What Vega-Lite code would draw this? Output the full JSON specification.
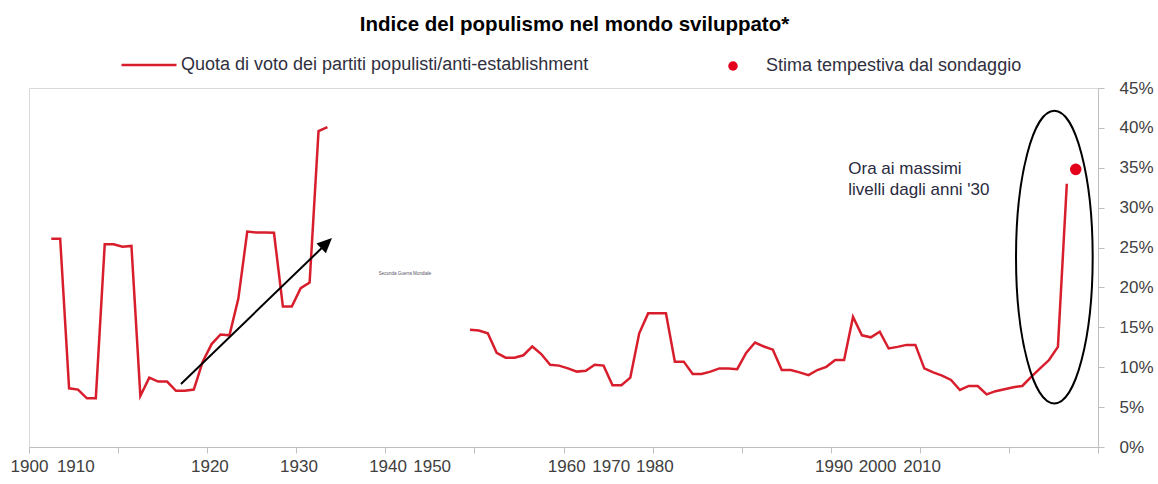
{
  "$schema": "https://vega.github.io/schema/vega-lite/v6.json",
  "autosize": {"type": "none"},
  "padding": {"left": 29, "top": 88, "right": 60, "bottom": 37},
  "width": 1069,
  "height": 359,
  "background": "white",
  "title": {
    "text": "Indice del populismo nel mondo sviluppato*",
    "font": "Liberation Sans",
    "fontSize": 20.5,
    "fontWeight": "bold",
    "color": "#000000",
    "anchor": "middle",
    "frame": "group",
    "dx": 11,
    "offset": 1
  },
  "config": {
    "font": "Liberation Sans",
    "view": {"stroke": "#d9d9d9", "strokeWidth": 1},
    "axis": {"grid": false, "title": null}
  },
  "datasets": {
    "linea": [
      {"i": 2, "v": 26.1, "seg": "a"}, {"i": 3, "v": 26.1, "seg": "a"}, {"i": 4, "v": 7.35, "seg": "a"}, {"i": 5, "v": 7.2, "seg": "a"},
      {"i": 6, "v": 6.1, "seg": "a"}, {"i": 7, "v": 6.1, "seg": "a"}, {"i": 8, "v": 25.4, "seg": "a"}, {"i": 9, "v": 25.4, "seg": "a"},
      {"i": 10, "v": 25.1, "seg": "a"}, {"i": 11, "v": 25.2, "seg": "a"}, {"i": 12, "v": 6.4, "seg": "a"}, {"i": 13, "v": 8.7, "seg": "a"},
      {"i": 14, "v": 8.2, "seg": "a"}, {"i": 15, "v": 8.2, "seg": "a"}, {"i": 16, "v": 7.05, "seg": "a"}, {"i": 17, "v": 7.05, "seg": "a"},
      {"i": 18, "v": 7.2, "seg": "a"}, {"i": 19, "v": 10.7, "seg": "a"}, {"i": 20, "v": 12.9, "seg": "a"}, {"i": 21, "v": 14.1, "seg": "a"},
      {"i": 22, "v": 14.0, "seg": "a"}, {"i": 23, "v": 18.6, "seg": "a"}, {"i": 24, "v": 27.0, "seg": "a"}, {"i": 25, "v": 26.9, "seg": "a"},
      {"i": 26, "v": 26.9, "seg": "a"}, {"i": 27, "v": 26.85, "seg": "a"}, {"i": 28, "v": 17.6, "seg": "a"}, {"i": 29, "v": 17.6, "seg": "a"},
      {"i": 30, "v": 19.9, "seg": "a"}, {"i": 31, "v": 20.6, "seg": "a"}, {"i": 32, "v": 39.6, "seg": "a"}, {"i": 33, "v": 40.1, "seg": "a"},
      {"i": 49, "v": 14.7, "seg": "b"}, {"i": 50, "v": 14.6, "seg": "b"}, {"i": 51, "v": 14.25, "seg": "b"}, {"i": 52, "v": 11.8, "seg": "b"},
      {"i": 53, "v": 11.2, "seg": "b"}, {"i": 54, "v": 11.2, "seg": "b"}, {"i": 55, "v": 11.5, "seg": "b"}, {"i": 56, "v": 12.6, "seg": "b"},
      {"i": 57, "v": 11.65, "seg": "b"}, {"i": 58, "v": 10.3, "seg": "b"}, {"i": 59, "v": 10.2, "seg": "b"}, {"i": 60, "v": 9.85, "seg": "b"},
      {"i": 61, "v": 9.45, "seg": "b"}, {"i": 62, "v": 9.55, "seg": "b"}, {"i": 63, "v": 10.3, "seg": "b"}, {"i": 64, "v": 10.2, "seg": "b"},
      {"i": 65, "v": 7.75, "seg": "b"}, {"i": 66, "v": 7.75, "seg": "b"}, {"i": 67, "v": 8.7, "seg": "b"}, {"i": 68, "v": 14.25, "seg": "b"},
      {"i": 69, "v": 16.75, "seg": "b"}, {"i": 70, "v": 16.75, "seg": "b"}, {"i": 71, "v": 16.75, "seg": "b"}, {"i": 72, "v": 10.7, "seg": "b"},
      {"i": 73, "v": 10.7, "seg": "b"}, {"i": 74, "v": 9.15, "seg": "b"}, {"i": 75, "v": 9.15, "seg": "b"}, {"i": 76, "v": 9.45, "seg": "b"},
      {"i": 77, "v": 9.85, "seg": "b"}, {"i": 78, "v": 9.85, "seg": "b"}, {"i": 79, "v": 9.75, "seg": "b"}, {"i": 80, "v": 11.8, "seg": "b"},
      {"i": 81, "v": 13.1, "seg": "b"}, {"i": 82, "v": 12.6, "seg": "b"}, {"i": 83, "v": 12.2, "seg": "b"}, {"i": 84, "v": 9.65, "seg": "b"},
      {"i": 85, "v": 9.65, "seg": "b"}, {"i": 86, "v": 9.35, "seg": "b"}, {"i": 87, "v": 9.0, "seg": "b"}, {"i": 88, "v": 9.65, "seg": "b"},
      {"i": 89, "v": 10.05, "seg": "b"}, {"i": 90, "v": 10.9, "seg": "b"}, {"i": 91, "v": 10.9, "seg": "b"}, {"i": 92, "v": 16.3, "seg": "b"},
      {"i": 93, "v": 14.0, "seg": "b"}, {"i": 94, "v": 13.75, "seg": "b"}, {"i": 95, "v": 14.45, "seg": "b"}, {"i": 96, "v": 12.35, "seg": "b"},
      {"i": 97, "v": 12.55, "seg": "b"}, {"i": 98, "v": 12.8, "seg": "b"}, {"i": 99, "v": 12.8, "seg": "b"}, {"i": 100, "v": 9.85, "seg": "b"},
      {"i": 101, "v": 9.35, "seg": "b"}, {"i": 102, "v": 8.95, "seg": "b"}, {"i": 103, "v": 8.4, "seg": "b"}, {"i": 104, "v": 7.15, "seg": "b"},
      {"i": 105, "v": 7.65, "seg": "b"}, {"i": 106, "v": 7.65, "seg": "b"}, {"i": 107, "v": 6.6, "seg": "b"}, {"i": 108, "v": 7.0, "seg": "b"},
      {"i": 109, "v": 7.25, "seg": "b"}, {"i": 110, "v": 7.5, "seg": "b"}, {"i": 111, "v": 7.65, "seg": "b"}, {"i": 112, "v": 8.8, "seg": "b"},
      {"i": 113, "v": 9.85, "seg": "b"}, {"i": 114, "v": 10.9, "seg": "b"}, {"i": 115, "v": 12.55, "seg": "b"}, {"i": 116, "v": 33.0, "seg": "b"}
    ],
    "stima": [{"i": 117, "v": 34.8}],
    "freccia": [{"i": 16.56, "v": 7.9, "i2": 32.39, "v2": 24.97}],
    "punta": [{"i": 33.51, "v": 26.2}],
    "ellisse": [{"i": 114.6, "v": 23.8}],
    "nota": [{"i": 91.47, "v": 34.2, "testo": ["Ora ai massimi", "livelli dagli anni '30"]}],
    "piccola": [{"i": 41.7, "v": 21.7, "testo": "Seconda Guerra Mondiale"}]
  },
  "encoding": {
    "x": {
      "field": "i", "type": "quantitative",
      "scale": {"domain": [-0.5, 119.5], "nice": false, "zero": false},
      "axis": {
        "orient": "bottom",
        "values": [-0.5, 9.5, 19.5, 29.5, 39.5, 49.5, 59.5, 69.5, 79.5, 89.5, 99.5, 109.5, 119.5, 4.7, 19.75, 29.75, 39.75, 44.7, 59.8, 64.8, 69.7, 89.8, 94.7, 99.7],
        "labelExpr": "datum.value == -0.5 ? '1900' : datum.value == 4.7 ? '1910' : datum.value == 19.75 ? '1920' : datum.value == 29.75 ? '1930' : datum.value == 39.75 ? '1940' : datum.value == 44.7 ? '1950' : datum.value == 59.8 ? '1960' : datum.value == 64.8 ? '1970' : datum.value == 69.7 ? '1980' : datum.value == 89.8 ? '1990' : datum.value == 94.7 ? '2000' : datum.value == 99.7 ? '2010' : ''",
        "tickOpacity": {"condition": {"test": "(datum.value + 0.5) % 10 == 0", "value": 1}, "value": 0},
        "labelOverlap": false,
        "labelFlush": false,
        "labelBound": false,
        "tickSize": 6,
        "tickColor": "#bfbfbf",
        "domainColor": "#bfbfbf",
        "labelFontSize": 17,
        "labelColor": "#404040",
        "labelPadding": 5,
        "grid": false,
        "title": null
      }
    },
    "y": {
      "field": "v", "type": "quantitative",
      "scale": {"domain": [0, 45], "nice": false, "zero": true},
      "axis": {
        "orient": "right",
        "values": [0, 5, 10, 15, 20, 25, 30, 35, 40, 45],
        "labelExpr": "datum.value + '%'",
        "labelOverlap": false,
        "labelFlush": false,
        "labelBound": false,
        "tickSize": 6,
        "tickColor": "#bfbfbf",
        "domainColor": "#bfbfbf",
        "labelFontSize": 17,
        "labelColor": "#404040",
        "labelPadding": 15,
        "grid": false,
        "title": null
      }
    }
  },
  "layer": [
    {
      "data": {"name": "linea"},
      "mark": {"type": "line", "strokeWidth": 2.5, "interpolate": "linear"},
      "encoding": {
        "detail": {"field": "seg"},
        "color": {
          "datum": "Quota di voto dei partiti populisti/anti-establishment",
          "scale": {"range": ["#d81e2c"]},
          "legend": {
            "orient": "none", "legendX": 91, "legendY": -52, "padding": 0,
            "title": null, "symbolType": "stroke", "symbolSize": 3025, "symbolStrokeWidth": 2.5,
            "labelFontSize": 18, "labelOffset": 3, "labelLimit": 700, "labelColor": "#303040"
          }
        }
      }
    },
    {
      "data": {"name": "stima"},
      "mark": {"type": "point", "filled": true, "size": 135, "opacity": 1},
      "encoding": {
        "fill": {
          "datum": "Stima tempestiva dal sondaggio",
          "scale": {"range": ["#e3001b"]},
          "legend": {
            "orient": "none", "legendX": 695, "legendY": -31, "padding": 0,
            "title": null, "symbolType": "circle", "symbolSize": 90, "symbolStrokeWidth": 0,
            "labelFontSize": 18, "labelOffset": 24, "labelLimit": 700, "labelColor": "#303040"
          }
        }
      }
    },
    {
      "data": {"name": "freccia"},
      "mark": {"type": "rule", "color": "#000000", "strokeWidth": 2},
      "encoding": {
        "x2": {"field": "i2"},
        "y2": {"field": "v2"}
      }
    },
    {
      "data": {"name": "punta"},
      "mark": {"type": "point", "shape": "M 0 0 L -0.45 1 L 0.45 1 Z", "filled": true, "color": "#000000", "size": 900, "angle": 46, "opacity": 1}
    },
    {
      "data": {"name": "ellisse"},
      "mark": {"type": "point", "shape": "M 0 -1 C 0.1447 -1 0.262 -0.5523 0.262 0 C 0.262 0.5523 0.1447 1 0 1 C -0.1447 1 -0.262 0.5523 -0.262 0 C -0.262 -0.5523 -0.1447 -1 0 -1 Z", "filled": false, "stroke": "#000000", "strokeWidth": 2, "size": 85615, "opacity": 1}
    },
    {
      "data": {"name": "nota"},
      "mark": {"type": "text", "align": "left", "baseline": "alphabetic", "fontSize": 17, "lineHeight": 21, "color": "#2a2a40"},
      "encoding": {
        "text": {"field": "testo"}
      }
    },
    {
      "data": {"name": "piccola"},
      "mark": {"type": "text", "align": "center", "baseline": "middle", "fontSize": 4.5, "color": "#555566"},
      "encoding": {
        "text": {"field": "testo"}
      }
    }
  ]
}
